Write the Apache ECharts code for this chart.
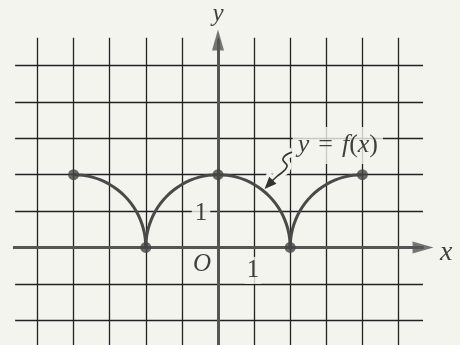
<!DOCTYPE html>
<html><head><meta charset="utf-8">
<script src="https://cdn.jsdelivr.net/npm/echarts@6/dist/echarts.min.js"></script>
<style>html,body{margin:0;padding:0;background:#f3f4ee}#c{width:460px;height:345px}</style>
</head><body><div id="c"></div>
<script>
// ---- data ----
const gridXTicks = [-5,-4,-3,-2,-1,0,1,2,3,4,5];
const gridYTicks = [-2,-1,0,1,2,3,4,5];
const pointX = [-4,-2,0,2,4];
const pointY = [2,0,2,0,2];
const leftArcX = [-4,-3.739,-3.482,-3.235,-3,-2.782,-2.586,-2.413,-2.268,-2.152,-2.068,-2.017,-2];
const leftArcY = [2,1.983,1.932,1.848,1.732,1.587,1.414,1.218,1,0.765,0.518,0.261,0];
const midArcX = [-2,-1.983,-1.932,-1.848,-1.732,-1.587,-1.414,-1.218,-1,-0.765,-0.518,-0.261,0,0.261,0.518,0.765,1,1.218,1.414,1.587,1.732,1.848,1.932,1.983,2];
const midArcY = [0,0.261,0.518,0.765,1,1.218,1.414,1.587,1.732,1.848,1.932,1.983,2,1.983,1.932,1.848,1.732,1.587,1.414,1.218,1,0.765,0.518,0.261,0];
const rightArcX = [2,2.017,2.068,2.152,2.268,2.413,2.586,2.782,3,3.235,3.482,3.739,4];
const rightArcY = [0,0.261,0.518,0.765,1,1.218,1.414,1.587,1.732,1.848,1.932,1.983,2];
const tickLabels = ['1','1'];
const axisNames = ['x','y'];
const originLabel = 'O';

const BG = '#f3f4ee';
const chart = echarts.init(document.getElementById('c'), null, {renderer:'canvas'});

const gridLines = [];
gridXTicks.forEach(x => gridLines.push({coords:[[x,-2.8],[x,5.76]]}));
gridYTicks.forEach(y => gridLines.push({coords:[[-5.62,y],[5.68,y]]}));

const zip = (a,b) => a.map((v,i)=>[v,b[i]]);
const curveStyle = {color:'#4a4a4a', width:3};
const serif = "'Liberation Serif', 'DejaVu Serif', serif";
function lab(pos, text, style){
  return {value:pos, label:Object.assign({show:true, formatter:text, position:'inside', align:'center', verticalAlign:'middle',
    fontFamily:serif, color:'#111', backgroundColor:BG}, style)};
}
const it = {fontFamily:serif, fontStyle:'italic', fontSize:26, color:'#111'};
const up = {fontFamily:serif, fontStyle:'normal', fontSize:26, color:'#111'};

chart.setOption({
  backgroundColor: BG,
  animation: false,
  grid: {left:0, right:0, top:0, bottom:0},
  xAxis: {type:'value', min:-6.039, max:6.704, show:false},
  yAxis: {type:'value', min:-2.679, max:6.799, show:false},
  series: [
    {type:'lines', coordinateSystem:'cartesian2d', silent:true, z:1, data:gridLines,
     lineStyle:{color:'#222', width:1.3, opacity:1}},
    {type:'lines', coordinateSystem:'cartesian2d', silent:true, z:3,
     data:[{coords:[[-5.68,0],[5.7,0]]},{coords:[[0,-2.8],[0,5.72]]}],
     lineStyle:{color:'#555', width:3, opacity:1}},
    {type:'scatter', silent:true, z:3, symbol:'triangle', itemStyle:{color:'#555'},
     data:[{value:[5.68,0], symbolSize:[12,21], symbolRotate:-90},{value:[0,5.70], symbolSize:[12,21], symbolRotate:0}]},
    {type:'line', data:zip(leftArcX,leftArcY), smooth:0.4, showSymbol:false, lineStyle:curveStyle, z:4, silent:true},
    {type:'line', data:zip(midArcX,midArcY), smooth:0.4, showSymbol:false, lineStyle:curveStyle, z:4, silent:true},
    {type:'line', data:zip(rightArcX,rightArcY), smooth:0.4, showSymbol:false, lineStyle:curveStyle, z:4, silent:true},
    {type:'scatter', data:zip(pointX,pointY), symbolSize:11, itemStyle:{color:'#444'}, z:5, silent:true},
    {type:'scatter', symbolSize:0, z:6, silent:true, data:[
      lab([-0.47,0.94], tickLabels[0], {fontSize:25, padding:[0,3,0,3]}),
      lab([0.97,-0.63], tickLabels[1], {fontSize:25, padding:[1,2,1,2]}),
      lab([-0.44,-0.47], originLabel, {fontSize:25, fontStyle:'italic', backgroundColor:'transparent'}),
      lab([6.32,-0.14], axisNames[0], {fontSize:28, fontStyle:'italic', backgroundColor:'transparent'}),
      lab([0,6.40], axisNames[1], {fontSize:25, fontStyle:'italic', backgroundColor:'transparent'}),
      {value:[3.32,2.8], label:{show:true, position:'inside', align:'center', verticalAlign:'middle',
        formatter:'{i|y}{s| }{u|=}{s| }{i|f}{u|(}{i|x}{u|)}', backgroundColor:BG, padding:[5,5,6,5],
        rich:{i:it, u:up, s:{fontSize:26, width:9, fontFamily:serif}}}}
    ]}
  ]
});

// annotation arrow (y = f(x) -> curve)
const P = p => chart.convertToPixel({gridIndex:0}, p);
const path = [[2.05,2.62],[1.80,2.44],[1.91,2.22],[1.63,1.95],[1.40,1.74]].map(P);
const tip = P([1.29,1.61]);
const prev = P([1.55,1.88]);
let dx = tip[0]-prev[0], dy = tip[1]-prev[1];
const L = Math.hypot(dx,dy); dx/=L; dy/=L;
const len = 12, hw = 5;
const bx = tip[0]-dx*len, by = tip[1]-dy*len;
const head = [tip, [bx-dy*hw, by+dx*hw], [bx+dy*hw, by-dx*hw]];
chart.setOption({graphic:[
  {type:'polyline', shape:{points:path, smooth:0.5}, style:{stroke:BG, lineWidth:9, fill:null}, z:2},
  {type:'polygon', shape:{points:head}, style:{fill:BG, stroke:BG, lineWidth:7}, z:2},
  {type:'polyline', shape:{points:path.concat([[bx,by]]), smooth:0.5}, style:{stroke:'#333', lineWidth:1.6, fill:null}, z:7},
  {type:'polygon', shape:{points:head}, style:{fill:'#333'}, z:7}
]});
</script></body></html>
